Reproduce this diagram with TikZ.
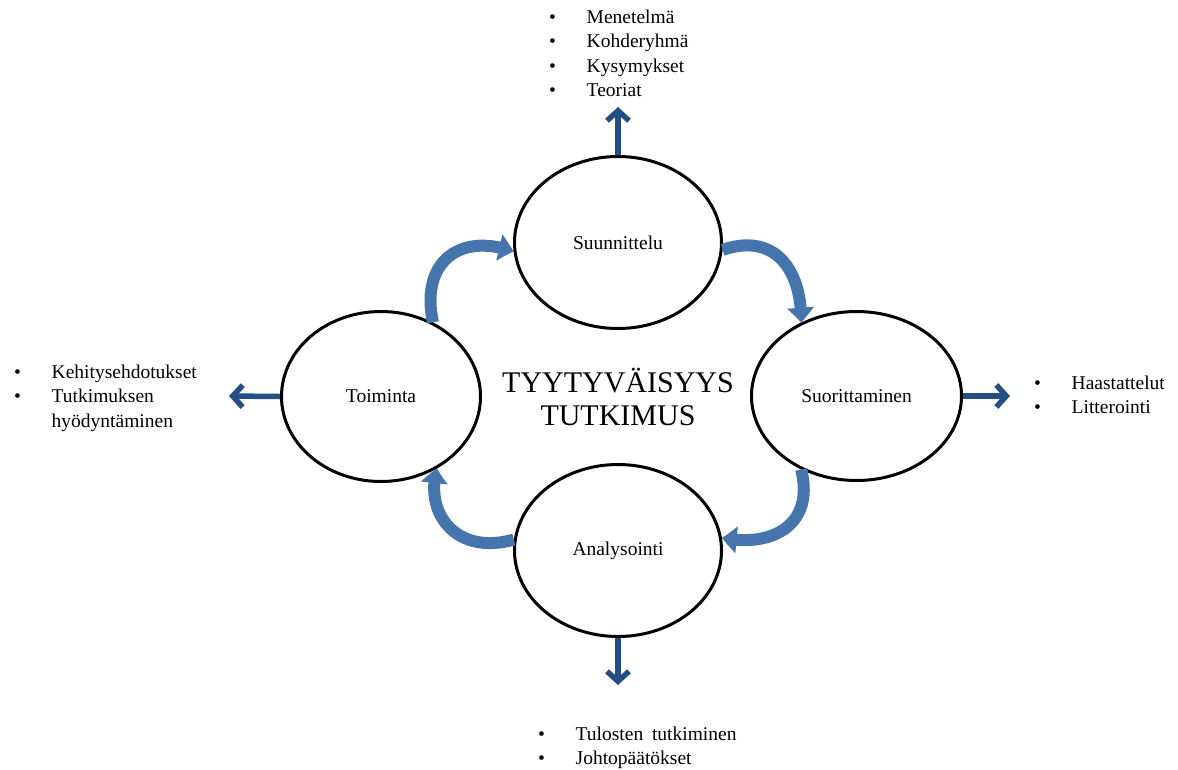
\documentclass[tikz,border=0pt]{standalone}
\usepackage{fontspec}
\setmainfont{Liberation Serif}
\usetikzlibrary{shapes.geometric,arrows.meta,bending}
\definecolor{pointerblue}{RGB}{37,78,132}
\definecolor{cycleblue}{RGB}{70,116,172}
\tikzset{
  phase/.style={ellipse,draw=black,line width=3pt,inner sep=0pt,
    font=\fontsize{19.5}{24}\selectfont},
  pointer/.style={draw=pointerblue,line width=5.5pt,
    -{Straight Barb[length=10pt,width=22pt,line width=5.5pt]}},
  cyclearrow/.style={draw=cycleblue,line width=12pt,
    -{Triangle[length=15pt,width=26pt,bend]}},
  bullets/.style={inner sep=0pt,anchor=base west,
    font=\fontsize{19.5}{24.5}\selectfont},
  title/.style={font=\fontsize{30}{33}\selectfont,align=center}
}
\newcommand{\itemlist}[1]{\begin{tabular}[t]{@{}p{37.5pt}@{}l@{}}#1\end{tabular}}
\begin{document}
\begin{tikzpicture}[x=1pt,y=-1pt]
  \useasboundingbox (0,0) rectangle (1178,769);

  % the four phases of the study
  \node[phase,minimum width=207pt,minimum height=172pt] (suun) at (618,242.5) {Suunnittelu};
  \node[phase,minimum width=199pt,minimum height=170pt] (toim) at (381,396.5) {Toiminta};
  \node[phase,minimum width=210pt,minimum height=169pt] (suor) at (856.5,396) {Suorittaminen};
  \node[phase,minimum width=207pt,minimum height=172pt] (anal) at (618,550.5) {Analysointi};

  % title in the middle
  \node[title] (otsikko) at (618,397) {TYYTYVÄISYYS\\TUTKIMUS};

  % cycle arrows between the phases
  \draw[cyclearrow] (toim.55) .. controls (420,262) and (460,232) .. (suun.185);
  \draw[cyclearrow] (suun.-4) .. controls (775,232) and (802,270) .. (suor.127);
  \draw[cyclearrow] (suor.233) .. controls (815,525) and (772,548) .. (anal.7);
  \draw[cyclearrow] (anal.174) .. controls (455,556) and (424,512) .. (toim.-52);

  % outward pointers to the task lists
  \coordinate (ylos) at (618,107);
  \coordinate (vasen) at (229,396);
  \coordinate (oikea) at (1010,396);
  \coordinate (alas) at (618,685);
  \draw[pointer] (suun.north) -- (ylos);
  \draw[pointer] (toim.west) -- (vasen);
  \draw[pointer] (suor.east) -- (oikea);
  \draw[pointer] (anal.south) -- (alas);

  % task lists
  \node[bullets] (suunlista) at (549,23) {\itemlist{%
    \textbullet & Menetelmä\\
    \textbullet & Kohderyhmä\\
    \textbullet & Kysymykset\\
    \textbullet & Teoriat}};
  \node[bullets] (toimlista) at (14,378) {\itemlist{%
    \textbullet & Kehitysehdotukset\\
    \textbullet & Tutkimuksen\\
                & hyödyntäminen}};
  \node[bullets] (suorlista) at (1034,389) {\itemlist{%
    \textbullet & Haastattelut\\
    \textbullet & Litterointi}};
  \node[bullets] (anallista) at (538,740) {\itemlist{%
    \textbullet & Tulosten\hspace{0.45em}tutkiminen\\
    \textbullet & Johtopäätökset}};
\end{tikzpicture}
\end{document}
